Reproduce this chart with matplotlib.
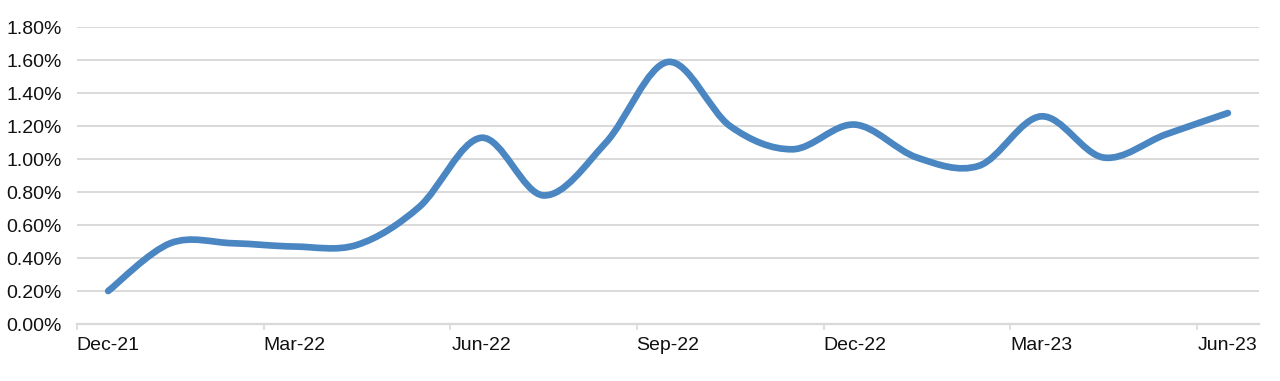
import numpy as np
import matplotlib
matplotlib.use("Agg")
import matplotlib.pyplot as plt
from matplotlib.path import Path
from matplotlib.patches import PathPatch
from matplotlib.ticker import FixedLocator, PercentFormatter

# ==============================
# Data
# ==============================
months = ["Dec-21", "Jan-22", "Feb-22", "Mar-22", "Apr-22", "May-22", "Jun-22",
          "Jul-22", "Aug-22", "Sep-22", "Oct-22", "Nov-22", "Dec-22", "Jan-23",
          "Feb-23", "Mar-23", "Apr-23", "May-23", "Jun-23"]
rate = [0.20, 0.49, 0.49, 0.47, 0.48, 0.71, 1.13, 0.78, 1.10, 1.59,
        1.20, 1.06, 1.21, 1.01, 0.96, 1.26, 1.01, 1.15, 1.28]   # percent

label_every = 3
y_ticks = [0.0, 0.2, 0.4, 0.6, 0.8, 1.0, 1.2, 1.4, 1.6, 1.8]

LINE = "#4a86c1"
GRID = "#d9d9d9"
TEXT = "#111111"

plt.rcParams["font.family"] = ["Liberation Sans Narrow", "Liberation Sans", "DejaVu Sans"]

# ==============================
# Smoothed path (Excel style, Catmull-Rom -> Bezier)
# ==============================
x = np.arange(len(rate), dtype=float)
y = np.array(rate) / 100.0
pts = np.column_stack([x, y])

verts = [pts[0]]
codes = [Path.MOVETO]
n = len(pts)
for i in range(n - 1):
    p0 = pts[i - 1] if i > 0 else pts[i]
    p1 = pts[i]
    p2 = pts[i + 1]
    p3 = pts[i + 2] if i + 2 < n else pts[i + 1]
    c1 = p1 + (p2 - p0) / 6.0
    c2 = p2 - (p3 - p1) / 6.0
    verts += [c1, c2, p2]
    codes += [Path.CURVE4] * 3

# ==============================
# Figure
# ==============================
fig = plt.figure(figsize=(12.8, 3.81), dpi=100)
ax = fig.add_axes([0.0602, 0.1496, 0.9234, 0.7787])

ax.add_patch(PathPatch(Path(verts, codes), facecolor="none", edgecolor=LINE,
                       linewidth=4.8, capstyle="round", joinstyle="round", zorder=3))

ax.set_xlim(-0.5, n - 0.5)
ax.set_ylim(0, 0.018)

ax.yaxis.set_major_locator(FixedLocator([v / 100 for v in y_ticks]))
ax.yaxis.set_major_formatter(PercentFormatter(1.0, decimals=2))
ax.grid(axis="y", color=GRID, linewidth=1.4, zorder=0)
ax.set_axisbelow(True)

# labels every 3 months, tick marks between categories
label_pos = list(range(0, n, label_every))
ax.set_xticks(label_pos)
ax.set_xticklabels([months[i] for i in label_pos])
ax.xaxis.set_minor_locator(FixedLocator([-0.5] + [p + 2.5 for p in label_pos[:-1]]))

for side in ["top", "right", "left"]:
    ax.spines[side].set_visible(False)
ax.spines["bottom"].set_color(GRID)
ax.spines["bottom"].set_linewidth(1.6)

ax.tick_params(axis="x", which="major", length=0, pad=9.5, labelsize=14, labelcolor=TEXT)
ax.tick_params(axis="x", which="minor", length=4, width=1.2, color=GRID, direction="out")
ax.tick_params(axis="y", length=0, pad=11, labelsize=14, labelcolor=TEXT)

fig.savefig("out.png", dpi=100, facecolor="white")
